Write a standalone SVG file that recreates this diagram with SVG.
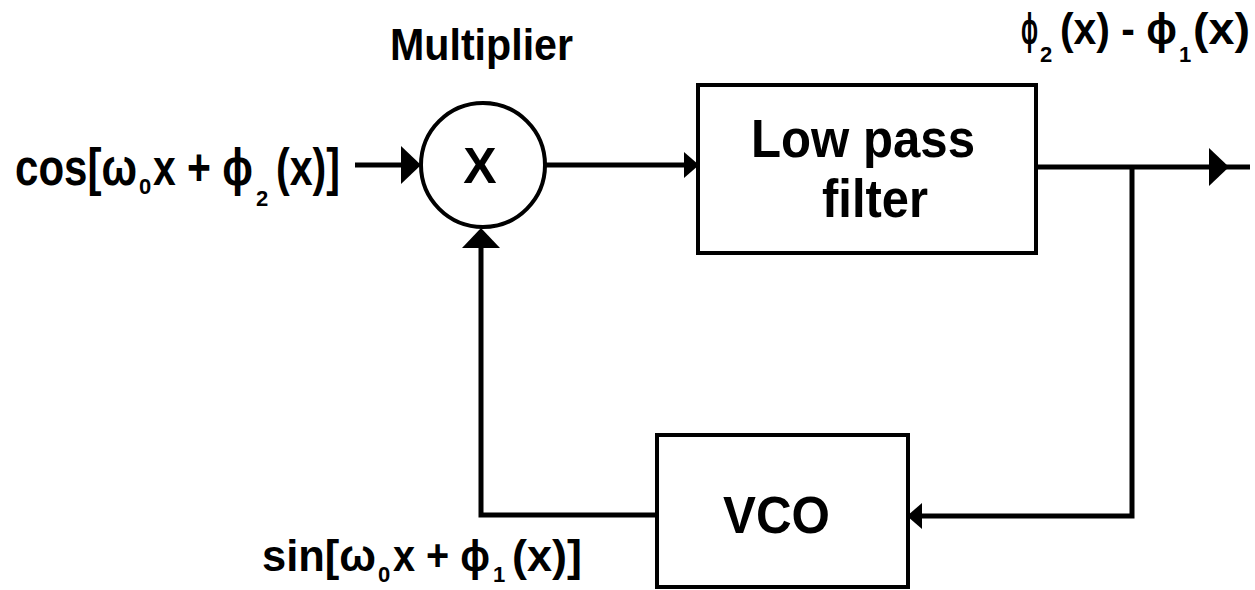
<svg xmlns="http://www.w3.org/2000/svg" xmlns:xlink="http://www.w3.org/1999/xlink" width="1255" height="590" viewBox="0 0 1255 590">
  <style>
    .box { fill: #ffffff; stroke: #000000; stroke-width: 4; }
    .wire { fill: none; stroke: #000000; stroke-width: 5; }
    .lbl { font-family: "Liberation Sans", "DejaVu Sans", Arial, sans-serif; font-weight: bold; fill: #000000; }
    .sub { font-size: 22px; }
  </style>
  <defs>
    <path id="ahBig" d="M0,0 L-20,-19 L-20,19 Z" fill="#000"/>
    <path id="ahSmall" d="M0,0 L-15,-13 L-15,13 Z" fill="#000"/>
  </defs>
  <rect width="1255" height="590" fill="#ffffff"/>

  <g id="connectors">
    <line class="wire" x1="355" y1="165" x2="405" y2="165"/>
    <use xlink:href="#ahBig" href="#ahBig" transform="translate(421,165)"/>
    <line class="wire" x1="545" y1="165" x2="688" y2="165"/>
    <use xlink:href="#ahSmall" href="#ahSmall" transform="translate(699,165)"/>
    <line class="wire" x1="1036" y1="167" x2="1250" y2="167"/>
    <use xlink:href="#ahBig" href="#ahBig" transform="translate(1229,167)"/>
    <polyline class="wire" points="1132,167 1132,516 918,516"/>
    <use xlink:href="#ahSmall" href="#ahSmall" transform="translate(907,516) rotate(180)"/>
    <polyline class="wire" points="657,515 481,515 481,240"/>
    <use xlink:href="#ahBig" href="#ahBig" transform="translate(481,228) rotate(-90)"/>
  </g>

  <g id="multiplier">
    <circle cx="483" cy="165" r="62" fill="#fff" stroke="#000" stroke-width="4"/>
    <text class="lbl" x="480" y="183" font-size="50" text-anchor="middle">X</text>
    <text class="lbl" x="390" y="60" font-size="44" textLength="183" lengthAdjust="spacingAndGlyphs">Multiplier</text>
  </g>

  <g id="lowpass">
    <rect class="box" x="698" y="85" width="338" height="168"/>
    <text class="lbl" x="751" y="157" font-size="54" textLength="224" lengthAdjust="spacingAndGlyphs">Low pass</text>
    <text class="lbl" x="822" y="217" font-size="54" textLength="106" lengthAdjust="spacingAndGlyphs">filter</text>
  </g>

  <g id="vco">
    <rect class="box" x="657" y="435" width="251" height="152"/>
    <text class="lbl" x="723" y="533" font-size="52" textLength="107" lengthAdjust="spacingAndGlyphs">VCO</text>
  </g>

  <g id="input-label">
    <text class="lbl" font-size="52">
      <tspan x="15" y="185" textLength="122" lengthAdjust="spacingAndGlyphs">cos[ω</tspan>
      <tspan class="sub" x="139" y="194">0</tspan>
      <tspan x="153" y="185" textLength="100" lengthAdjust="spacingAndGlyphs">x + ϕ</tspan>
      <tspan class="sub" x="256" y="206">2</tspan>
      <tspan x="276" y="185" textLength="64" lengthAdjust="spacingAndGlyphs">(x)]</tspan>
    </text>
  </g>

  <g id="feedback-label">
    <text class="lbl" font-size="44">
      <tspan x="262" y="571" textLength="114" lengthAdjust="spacingAndGlyphs">sin[ω</tspan>
      <tspan class="sub" x="378" y="582">0</tspan>
      <tspan x="393" y="571" textLength="97" lengthAdjust="spacingAndGlyphs">x + ϕ</tspan>
      <tspan class="sub" x="493" y="582">1</tspan>
      <tspan x="512" y="571" textLength="70" lengthAdjust="spacingAndGlyphs">(x)]</tspan>
    </text>
  </g>

  <g id="output-label">
    <text class="lbl" font-size="44">
      <tspan x="1021" y="44" textLength="17" lengthAdjust="spacingAndGlyphs">ϕ</tspan>
      <tspan class="sub" x="1040" y="62">2</tspan>
      <tspan x="1060" y="44" textLength="117" lengthAdjust="spacingAndGlyphs">(x) - ϕ</tspan>
      <tspan class="sub" x="1179" y="62">1</tspan>
      <tspan x="1193" y="44" textLength="57" lengthAdjust="spacingAndGlyphs">(x)</tspan>
    </text>
  </g>
</svg>
